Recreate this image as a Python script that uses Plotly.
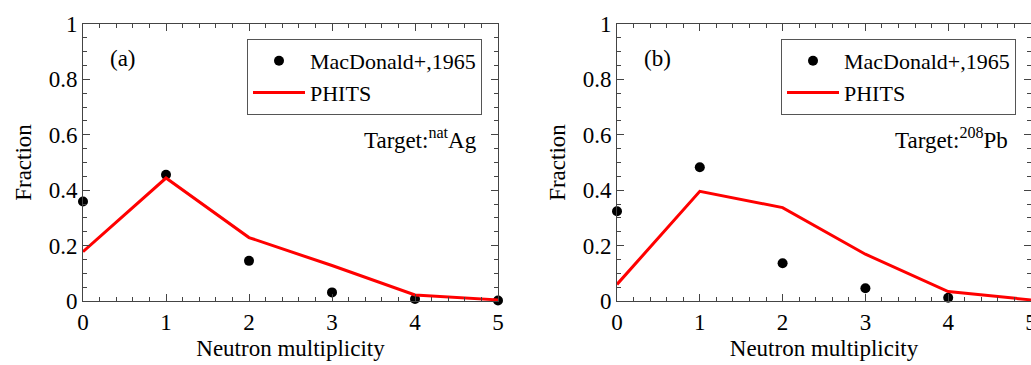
import plotly.graph_objects as go

# ---- data ----
multiplicity = [0, 1, 2, 3, 4, 5]
ag_exp = [0.359, 0.456, 0.145, 0.031, 0.007, 0.002]
ag_phits = [0.178, 0.444, 0.229, 0.128, 0.022, 0.004]
pb_mult_exp = [0, 1, 2, 3, 4]
pb_exp = [0.324, 0.483, 0.136, 0.046, 0.012]
pb_phits = [0.060, 0.396, 0.337, 0.169, 0.034, 0.004]

FONT = "Liberation Serif"
AXC = "#444444"
FS = 23
LFS = 22

fig = go.Figure()

fig.add_trace(go.Scatter(x=multiplicity, y=ag_exp, mode="markers", name="MacDonald+,1965",
                         marker=dict(color="black", size=10), cliponaxis=False,
                         xaxis="x", yaxis="y", legend="legend"))
fig.add_trace(go.Scatter(x=multiplicity, y=ag_phits, mode="lines", name="PHITS",
                         line=dict(color="#ff0000", width=3),
                         xaxis="x", yaxis="y", legend="legend"))
fig.add_trace(go.Scatter(x=pb_mult_exp, y=pb_exp, mode="markers", name="MacDonald+,1965",
                         marker=dict(color="black", size=10), cliponaxis=False,
                         xaxis="x2", yaxis="y2", legend="legend2"))
fig.add_trace(go.Scatter(x=multiplicity, y=pb_phits, mode="lines", name="PHITS",
                         line=dict(color="#ff0000", width=3),
                         xaxis="x2", yaxis="y2", legend="legend2"))

W, H = 1031, 365
ytop, ybot = 1 - 24 / H, 1 - 301 / H

def xax(domain, anchor):
    return dict(domain=domain, anchor=anchor, range=[0, 5], dtick=1, tick0=0, automargin=False,
                showline=True, linecolor=AXC, linewidth=1, mirror="allticks",
                ticks="inside", ticklen=7, tickcolor=AXC, tickwidth=1,
                minor=dict(ticks="inside", ticklen=4, dtick=0.2, tickcolor=AXC, tickwidth=1),
                showgrid=False, zeroline=False, ticklabeloverflow="allow",
                tickfont=dict(family=FONT, size=FS, color="black"),
                title=dict(text="Neutron multiplicity", font=dict(family=FONT, size=FS, color="black"),
                           standoff=6))

def yax(domain, anchor):
    return dict(domain=domain, anchor=anchor, range=[0, 1], dtick=0.2, tick0=0, automargin=False,
                showline=True, linecolor=AXC, linewidth=1, mirror="allticks",
                ticks="inside", ticklen=7, tickcolor=AXC, tickwidth=1,
                minor=dict(ticks="inside", ticklen=4, dtick=0.05, tickcolor=AXC, tickwidth=1),
                showgrid=False, zeroline=False,
                tickfont=dict(family=FONT, size=FS, color="black"),
                title=dict(text="Fraction", font=dict(family=FONT, size=FS, color="black"),
                           standoff=10))

leg = dict(font=dict(family=FONT, size=LFS, color="black"), bordercolor="#555555", borderwidth=1,
           bgcolor="white", xanchor="right", yanchor="top", y=1 - 39 / H, itemwidth=52,
           tracegroupgap=0)

fig.update_layout(
    width=W, height=H, margin=dict(l=0, r=0, t=0, b=0, autoexpand=False),
    paper_bgcolor="white", plot_bgcolor="white",
    font=dict(family=FONT, color="black"),
    xaxis=xax([83 / W, 498 / W], "y"),
    yaxis=yax([ybot, ytop], "x"),
    xaxis2=xax([617 / W, 1.0], "y2"),
    yaxis2=yax([ybot, ytop], "x2"),
    legend=dict(leg, x=482 / W),
    legend2=dict(leg, x=1016 / W),
    showlegend=True,
)

annots = [
    dict(text="(a)", x=0.48, y=0.875, xref="x", yref="y", xanchor="center", yanchor="middle"),
    dict(text="Target:<sup>nat</sup>Ag", x=4.77, y=0.585, xref="x", yref="y", xanchor="right", yanchor="middle"),
    dict(text="(b)", x=0.49, y=0.875, xref="x2", yref="y2", xanchor="center", yanchor="middle"),
    dict(text="Target:<sup>208</sup>Pb", x=4.75, y=0.585, xref="x2", yref="y2", xanchor="right", yanchor="middle"),
]
for a in annots:
    fig.add_annotation(showarrow=False, font=dict(family=FONT, size=FS, color="black"), **a)

fig.write_html("out.html")
